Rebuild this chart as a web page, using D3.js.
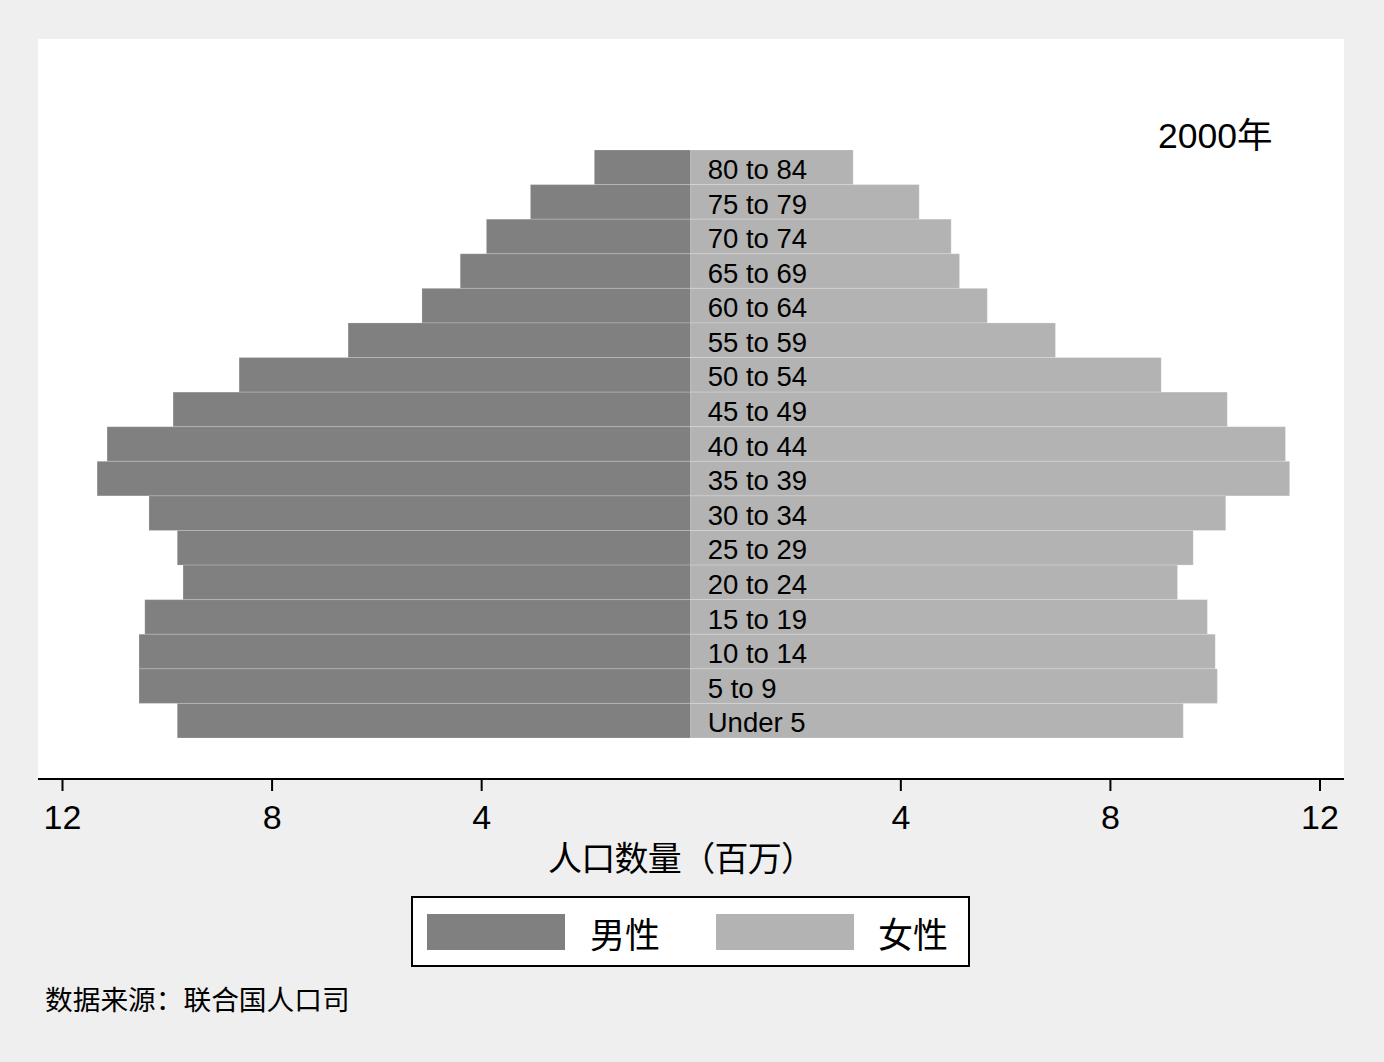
<!DOCTYPE html>
<html><head><meta charset="utf-8">
<script src="https://cdn.jsdelivr.net/npm/d3@7"></script>
<style>
html,body{margin:0;padding:0;background:#efefef;}
svg{display:block;}
</style></head>
<body>
<script>
const ageGroups = ["80 to 84","75 to 79","70 to 74","65 to 69","60 to 64","55 to 59","50 to 54","45 to 49","40 to 44","35 to 39","30 to 34","25 to 29","20 to 24","15 to 19","10 to 14","5 to 9","Under 5"];
const maleValues = [1.84,3.06,3.90,4.40,5.13,6.54,8.62,9.88,11.14,11.33,10.34,9.80,9.69,10.42,10.53,10.53,9.80];
const femaleValues = [3.10,4.36,4.97,5.13,5.66,6.96,8.98,10.24,11.35,11.43,10.21,9.59,9.29,9.86,10.01,10.05,9.40];
const tickValues = [-12,-8,-4,4,8,12];
const seriesNames = ["男性","女性"];
const yearLabel = "2000年";
const axisTitle = "人口数量（百万）";
const sourceNote = "数据来源：联合国人口司";

const W = 1384, H = 1062;
const latin = "'Liberation Sans', Arial, Helvetica, sans-serif";
const cjk = "'Liberation Sans', 'Noto Sans CJK SC', sans-serif";
const maleColor = "#808080", femaleColor = "#b3b3b3";

const svg = d3.select("body").append("svg").attr("width", W).attr("height", H);
svg.append("rect").attr("x",0).attr("y",0).attr("width",W).attr("height",H).attr("fill","#efefef");
svg.append("rect").attr("x",38).attr("y",39).attr("width",1306).attr("height",740).attr("fill","#ffffff");

const x = d3.scaleLinear().domain([-12,12]).range([62,1319.5]);
const y = d3.scaleBand().domain(ageGroups).range([150,738]).padding(0);

const rows = ageGroups.map((g,i)=>({g, m:maleValues[i], f:femaleValues[i]}));

svg.append("g").selectAll("rect").data(rows).join("rect")
  .attr("x", d=>x(-d.m)).attr("y", d=>y(d.g))
  .attr("width", d=>x(0)-x(-d.m)).attr("height", y.bandwidth())
  .attr("fill", maleColor).attr("stroke","#ffffff").attr("stroke-opacity",0.18).attr("stroke-width",1);
svg.append("g").selectAll("rect").data(rows).join("rect")
  .attr("x", x(0)).attr("y", d=>y(d.g))
  .attr("width", d=>x(d.f)-x(0)).attr("height", y.bandwidth())
  .attr("fill", femaleColor).attr("stroke","#ffffff").attr("stroke-opacity",0.18).attr("stroke-width",1);

svg.append("g").selectAll("text").data(rows).join("text")
  .attr("x", x(0)+17).attr("y", d=>y(d.g)+y.bandwidth()/2+2)
  .attr("dy","0.35em")
  .attr("font-family", latin).attr("font-size", 27.5).attr("fill","#000")
  .text(d=>d.g);

// axis
const axis = d3.axisBottom(x).tickValues(tickValues).tickFormat(d=>Math.abs(d)).tickSize(12).tickPadding(14);
const ag = svg.append("g").attr("transform","translate(0,779)").call(axis);
ag.select(".domain").remove();
ag.selectAll(".tick line").attr("stroke","#000").attr("stroke-width",2);
ag.selectAll(".tick text").attr("font-family", latin).attr("font-size",34).attr("fill","#000");
svg.append("line").attr("x1",38).attr("x2",1344).attr("y1",779).attr("y2",779).attr("stroke","#000").attr("stroke-width",2);

svg.append("text").attr("x",(548+815)/2).attr("y",871).attr("text-anchor","middle")
  .attr("font-family", cjk).attr("font-size",34).attr("fill","#000")
  .attr("textLength",267).attr("lengthAdjust","spacing").text(axisTitle);

svg.append("text").attr("x",1158).attr("y",148)
  .attr("font-family", cjk).attr("font-size",35.5).attr("fill","#000").text(yearLabel);

// legend
const lg = svg.append("g");
lg.append("rect").attr("x",412).attr("y",897).attr("width",557).attr("height",69)
  .attr("fill","#fff").attr("stroke","#000").attr("stroke-width",2);
const legendItems = [{name:seriesNames[0], color:maleColor, sx:427, tx:590},{name:seriesNames[1], color:femaleColor, sx:716, tx:878}];
lg.selectAll("rect.sw").data(legendItems).join("rect").attr("class","sw")
  .attr("x",d=>d.sx).attr("y",914).attr("width",138).attr("height",36).attr("fill",d=>d.color);
lg.selectAll("text").data(legendItems).join("text")
  .attr("x",d=>d.tx).attr("y",948).attr("font-family",cjk).attr("font-size",35).attr("fill","#000").text(d=>d.name);

svg.append("text").attr("x",45).attr("y",1010)
  .attr("font-family", cjk).attr("font-size",27.7).attr("fill","#000").text(sourceNote);
</script>
</body></html>
